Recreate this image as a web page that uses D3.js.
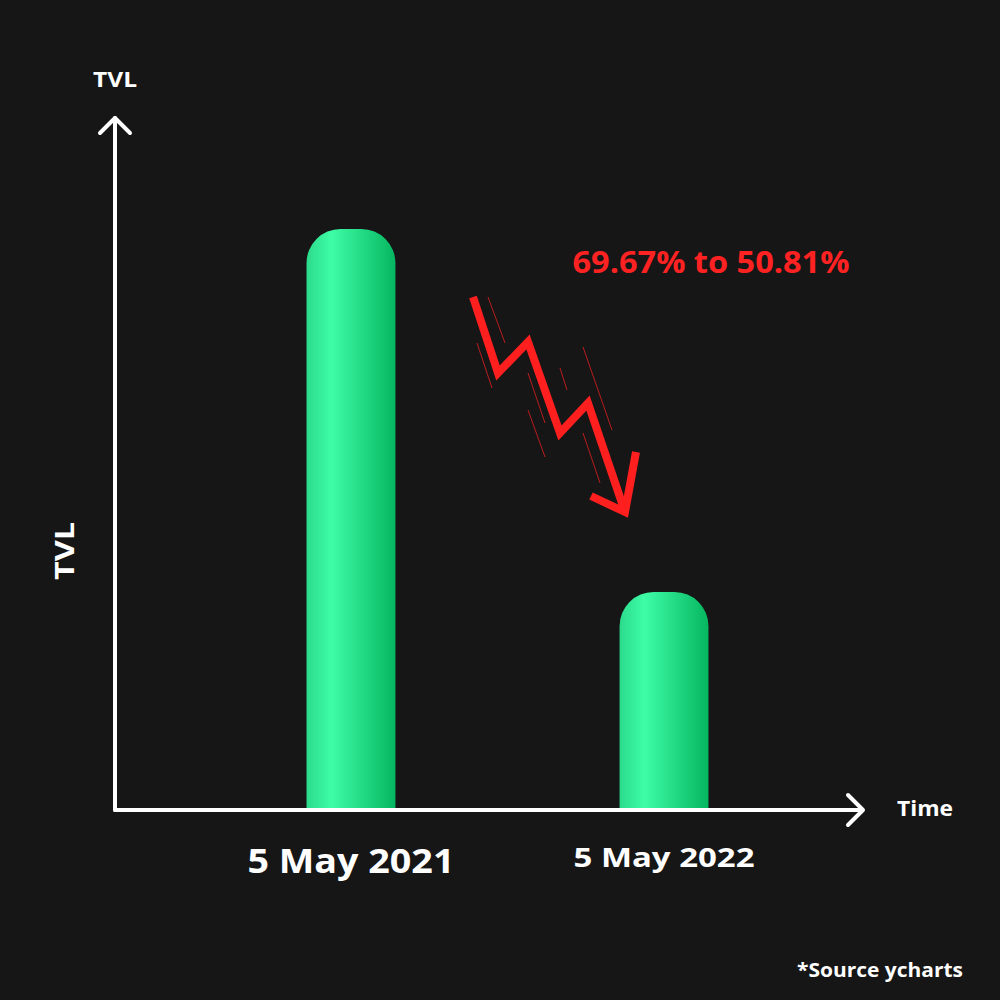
<!DOCTYPE html>
<html><head><meta charset="utf-8">
<script src="https://cdn.jsdelivr.net/npm/d3@7"></script>
<style>html,body{margin:0;padding:0;background:#161616;}svg{display:block;}</style>
</head><body>
<script>
const categories = ["5 May 2021", "5 May 2022"];
const tvlValues = [84.2, 31.6];
const yDomain = [0, 100];
const changeLabel = "69.67% to 50.81%";
const axisTitleY = "TVL";
const axisTitleX = "Time";
const sourceNote = "*Source ycharts";

const W = 1000, H = 1000;
const FONT = "'Open Sans', 'DejaVu Sans', sans-serif";
const svg = d3.select("body").append("svg").attr("width", W).attr("height", H);
svg.append("rect").attr("width", W).attr("height", H).attr("fill", "#161616");

const x = d3.scaleBand().domain(categories).range([150, 865]).paddingInner(0.716).paddingOuter(0.5);
const y = d3.scaleLinear().domain(yDomain).range([810, 120]);

const defs = svg.append("defs");
const grad = defs.append("linearGradient").attr("id", "barGrad").attr("x1", "0").attr("x2", "1").attr("y1", "0").attr("y2", "0");
grad.append("stop").attr("offset", "0%").attr("stop-color", "#2bdb8b");
grad.append("stop").attr("offset", "28%").attr("stop-color", "#3efca6");
grad.append("stop").attr("offset", "100%").attr("stop-color", "#06b660");

// bars with rounded tops
const r = 34;
svg.append("g").selectAll("path").data(categories).join("path")
  .attr("fill", "url(#barGrad)")
  .attr("d", (c, i) => {
    const x0 = x(c), w = x.bandwidth(), yt = y(tvlValues[i]), yb = y(0);
    return `M${x0},${yb} L${x0},${yt + r} A${r},${r} 0 0 1 ${x0 + r},${yt} L${x0 + w - r},${yt} A${r},${r} 0 0 1 ${x0 + w},${yt + r} L${x0 + w},${yb} Z`;
  });

// axes
const ax = svg.append("g").attr("stroke", "#ffffff").attr("stroke-width", 4).attr("fill", "none").attr("stroke-linecap", "round").attr("stroke-linejoin", "round");
const x0px = 115;
ax.append("path").attr("d", `M${x0px},${y(0)} L${x0px},${118}`);
ax.append("path").attr("d", `M${x0px - 15},${133} L${x0px},${118} L${x0px + 15},${133}`);
ax.append("path").attr("d", `M${x0px},${y(0)} L${862},${y(0)}`);
ax.append("path").attr("d", `M${848},${y(0) - 15} L${863},${y(0)} L${848},${y(0) + 15}`);

function txt(sel, size, len) {
  return sel.attr("font-family", FONT).attr("font-weight", 700).attr("font-size", size)
    .attr("textLength", len).attr("lengthAdjust", "spacingAndGlyphs");
}

// category labels
const catSizes = [34, 27], catLens = [207, 181], catBase = [873, 867];
svg.append("g").selectAll("text").data(categories).join("text")
  .attr("x", c => x(c) + x.bandwidth() / 2)
  .attr("y", (c, i) => catBase[i])
  .attr("text-anchor", "middle")
  .attr("fill", "#ffffff")
  .attr("font-family", FONT).attr("font-weight", 700)
  .attr("font-size", (c, i) => catSizes[i])
  .attr("textLength", (c, i) => catLens[i]).attr("lengthAdjust", "spacingAndGlyphs")
  .text(c => c);

// axis titles
txt(svg.append("text").attr("x", 115).attr("y", 87).attr("text-anchor", "middle").attr("fill", "#fff"), 21, 44).text(axisTitleY);
txt(svg.append("text").attr("transform", "translate(74,551) rotate(-90)").attr("text-anchor", "middle").attr("fill", "#fff"), 26, 58).text(axisTitleY);
txt(svg.append("text").attr("x", 925).attr("y", 816).attr("text-anchor", "middle").attr("fill", "#fff"), 21, 56).text(axisTitleX);
txt(svg.append("text").attr("x", 963).attr("y", 977).attr("text-anchor", "end").attr("fill", "#fff"), 19, 166).text(sourceNote);

// change annotation
txt(svg.append("text").attr("x", 711).attr("y", 273).attr("text-anchor", "middle").attr("fill", "#ff2222"), 30, 277).text(changeLabel);

// decorative falling arrow
const red = "#ff1f1f";
const arrow = svg.append("g").attr("fill", "none").attr("stroke", red);
arrow.append("path").attr("stroke-width", 8).attr("stroke-linejoin", "miter")
  .attr("d", "M473,297 L498,373 L528,342 L560,433 L588,403 L625,512");
arrow.append("path").attr("stroke-width", 8).attr("stroke-linejoin", "miter")
  .attr("d", "M591,496 L625,512 L636,452");
const thin = [[488,297,505,343],[477,343,492,388],[528,373,545,423],[528,410,545,457],[560,368,567,390],[583,347,612,430],[583,433,600,483]];
arrow.selectAll("line.t").data(thin).join("line").attr("class", "t")
  .attr("x1", d => d[0]).attr("y1", d => d[1]).attr("x2", d => d[2]).attr("y2", d => d[3])
  .attr("stroke-width", 1).attr("stroke-opacity", 0.7);
</script>
</body></html>
